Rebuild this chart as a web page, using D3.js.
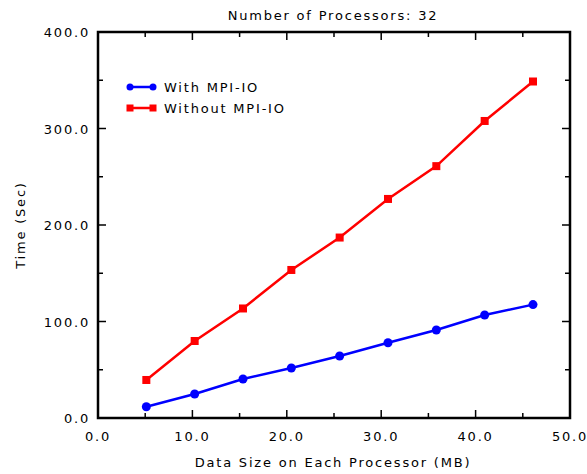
<!DOCTYPE html>
<html>
<head>
<meta charset="utf-8">
<script src="https://cdn.jsdelivr.net/npm/d3@7"></script>
<style>
body { margin: 0; background: #fff; }
text { font-family: "DejaVu Sans", sans-serif; fill: #000; font-size: 13px; letter-spacing: 1.8px; }
</style>
</head>
<body>
<script>
// data size per processor (MB)
var sizes = [5.12, 10.24, 15.36, 20.48, 25.6, 30.72, 35.84, 40.96, 46.08];
var withMPI = [11.7, 24.9, 40.4, 51.8, 64.2, 78.0, 91.2, 106.7, 117.5];
var withoutMPI = [39.4, 79.8, 113.5, 153.4, 187.0, 227.0, 261.0, 307.8, 348.7];
var seriesNames = ["With MPI-IO", "Without MPI-IO"];
var seriesColors = ["#0000ff", "#ff0000"];
var xTicks = [0, 10, 20, 30, 40, 50];
var yTicks = [0, 100, 200, 300, 400];

var width = 587, height = 474;
var margin = {top: 32, right: 17, bottom: 56, left: 98};

var svg = d3.select("body").append("svg")
    .attr("width", width)
    .attr("height", height);

var x = d3.scaleLinear().domain([0, 50]).range([margin.left, width - margin.right]);
var y = d3.scaleLinear().domain([0, 400]).range([height - margin.bottom, margin.top]);

var fmt = d3.format(".1f");

//minor ticks every 5 / 50
var xMinor = d3.range(5, 50, 10);
var yMinor = d3.range(50, 400, 100);

function tickLines(scale, vals, len, side) {
  var g = svg.append("g");
  vals.forEach(function(v) {
    var p = scale(v);
    var l = g.append("line").attr("stroke", "#000").attr("stroke-width", 1.5);
    if (side == "bottom") l.attr("x1", p).attr("x2", p).attr("y1", y(0)).attr("y2", y(0) - len);
    if (side == "top") l.attr("x1", p).attr("x2", p).attr("y1", y(400)).attr("y2", y(400) + len);
    if (side == "left") l.attr("y1", p).attr("y2", p).attr("x1", x(0)).attr("x2", x(0) + len);
    if (side == "right") l.attr("y1", p).attr("y2", p).attr("x1", x(50)).attr("x2", x(50) - len);
  });
}

tickLines(x, xTicks, 8, "bottom");
tickLines(x, xTicks, 8, "top");
tickLines(x, xMinor, 5, "bottom");
tickLines(x, xMinor, 5, "top");
tickLines(y, yTicks, 8, "left");
tickLines(y, yTicks, 8, "right");
tickLines(y, yMinor, 5, "left");
tickLines(y, yMinor, 5, "right");

//frame
svg.append("rect")
    .attr("x", x(0)).attr("y", y(400))
    .attr("width", x(50) - x(0)).attr("height", y(0) - y(400))
    .attr("fill", "none").attr("stroke", "#000").attr("stroke-width", 2.5);

//tick labels
svg.selectAll("text.xt").data(xTicks).enter().append("text")
    .attr("class", "xt")
    .attr("x", function(d) { return x(d); })
    .attr("y", y(0) + 23)
    .attr("text-anchor", "middle")
    .text(function(d) { return fmt(d); });

svg.selectAll("text.yt").data(yTicks).enter().append("text")
    .attr("class", "yt")
    .attr("x", x(0) - 8)
    .attr("y", function(d) { return y(d) + 5; })
    .attr("text-anchor", "end")
    .text(function(d) { return fmt(d); });

//titles
svg.append("text")
    .attr("x", 333).attr("y", 20)
    .attr("text-anchor", "middle")
    .text("Number of Processors: 32");

svg.append("text")
    .attr("x", 333).attr("y", 467)
    .attr("text-anchor", "middle")
    .text("Data Size on Each Processor (MB)");

svg.append("text")
    .attr("transform", "translate(25," + ((y(0) + y(400)) / 2) + ") rotate(-90)")
    .attr("text-anchor", "middle")
    .text("Time (Sec)");

//series
var series = [withMPI, withoutMPI];
var line = d3.line()
    .x(function(d, i) { return x(sizes[i]); })
    .y(function(d) { return y(d); });

series.forEach(function(vals, s) {
  svg.append("path")
      .datum(vals)
      .attr("fill", "none")
      .attr("stroke", seriesColors[s])
      .attr("stroke-width", 2.5)
      .attr("d", line);
  var pts = svg.append("g").selectAll("g").data(vals).enter();
  if (s == 0) {
    pts.append("circle")
        .attr("cx", function(d, i) { return x(sizes[i]); })
        .attr("cy", function(d) { return y(d); })
        .attr("r", 4.5)
        .attr("fill", seriesColors[s]);
  } else {
    pts.append("rect")
        .attr("x", function(d, i) { return x(sizes[i]) - 4; })
        .attr("y", function(d) { return y(d) - 4; })
        .attr("width", 8).attr("height", 8)
        .attr("fill", seriesColors[s]);
  }
});

//legend
var legend = svg.append("g");
seriesNames.forEach(function(name, s) {
  var ly = 87 + s * 21;
  legend.append("line")
      .attr("x1", 130).attr("x2", 153)
      .attr("y1", ly).attr("y2", ly)
      .attr("stroke", seriesColors[s]).attr("stroke-width", 2.5);
  [130, 153].forEach(function(lx) {
    if (s == 0) {
      legend.append("circle").attr("cx", lx).attr("cy", ly).attr("r", 3.5).attr("fill", seriesColors[s]);
    } else {
      legend.append("rect").attr("x", lx - 3.5).attr("y", ly - 3.5).attr("width", 7).attr("height", 7).attr("fill", seriesColors[s]);
    }
  });
  legend.append("text")
      .attr("x", 164).attr("y", ly + 5)
      .text(name);
});
</script>
</body>
</html>
